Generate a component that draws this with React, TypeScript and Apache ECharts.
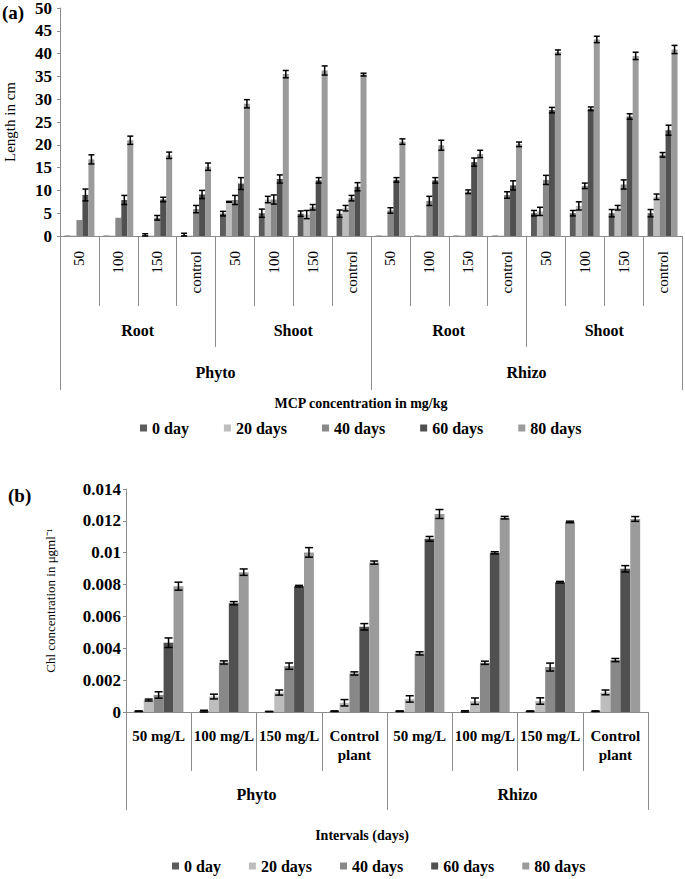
import React, { useEffect, useRef } from 'react';
import * as echarts from 'echarts';

// ---------- Data: panel (a) ----------
const lengthCats = ['50', '100', '150', 'control', '50', '100', '150', 'control', '50', '100', '150', 'control', '50', '100', '150', 'control'];
const lengthParts = ['Root', 'Shoot', 'Root', 'Shoot'];
const lengthGroups = ['Phyto', 'Rhizo'];
const seriesNames = ['0 day', '20 days', '40 days', '60 days', '80 days'];

const len0 = [0.1, 0.1, 0.2, 0.2, 4.9, 5.0, 4.9, 4.9, 0.1, 0.1, 0.1, 0.1, 5.0, 5.0, 5.0, 5.0];
const len20 = [0.1, 0.1, 0.1, 0.1, 7.5, 8.0, 4.7, 6.1, 0.1, 0.1, 0.1, 0.1, 5.4, 6.6, 6.2, 8.6];
const len40 = [3.5, 4.0, 4.0, 5.9, 7.9, 8.0, 6.3, 8.3, 5.6, 7.7, 9.7, 9.0, 12.3, 11.0, 11.3, 17.8];
const len60 = [9.0, 7.9, 8.0, 9.1, 11.5, 12.5, 12.2, 10.8, 12.3, 12.2, 16.2, 11.1, 27.6, 27.9, 26.2, 23.2];
const len80 = [16.8, 21.0, 17.7, 15.2, 29.0, 35.5, 36.3, 35.4, 20.7, 19.9, 18.0, 20.1, 40.3, 43.1, 39.5, 40.9];

const lenErr0 = [0, 0, 0.3, 0.4, 0.5, 0.9, 0.6, 0.8, 0, 0, 0, 0, 0.6, 0.6, 0.8, 0.8];
const lenErr20 = [0, 0, 0, 0, 0.1, 0.7, 0.9, 0.6, 0, 0, 0, 0, 0.9, 0.9, 0.5, 0.6];
const lenErr40 = [0, 0, 0.5, 0.8, 1.0, 1.0, 0.6, 0.6, 0.6, 1.0, 0.4, 0.7, 1.0, 0.6, 1.0, 0.5];
const lenErr60 = [1.3, 1.0, 0.5, 0.9, 1.3, 0.9, 0.6, 0.9, 0.5, 0.6, 0.9, 1.0, 0.6, 0.4, 0.6, 1.1];
const lenErr80 = [1.0, 0.9, 0.7, 0.8, 0.9, 0.8, 1.0, 0.3, 0.6, 1.1, 0.8, 0.5, 0.5, 0.7, 0.8, 0.9];

// ---------- Data: panel (b) ----------
const chlCats = ['50 mg/L', '100 mg/L', '150 mg/L', 'Control\nplant', '50 mg/L', '100 mg/L', '150 mg/L', 'Control\nplant'];
const chlGroups = ['Phyto', 'Rhizo'];

const chl0 = [0.00005, 0.00005, 0.00003, 0.00005, 0.00005, 0.00003, 0.00005, 0.00005];
const chl20 = [0.00075, 0.00097, 0.00122, 0.00058, 0.00082, 0.00068, 0.00069, 0.00123];
const chl40 = [0.00107, 0.00311, 0.00288, 0.00242, 0.00368, 0.00309, 0.00282, 0.00326];
const chl60 = [0.00435, 0.00683, 0.0079, 0.00535, 0.01087, 0.00999, 0.00815, 0.00899];
const chl80 = [0.0079, 0.00878, 0.01002, 0.00938, 0.01243, 0.0122, 0.01193, 0.01212];

const chlErr0 = [0.00002, 0.00006, 0.00001, 0.00002, 0.00002, 0.00005, 0.00002, 0.00002];
const chlErr20 = [0.00006, 0.00015, 0.00016, 0.0002, 0.0002, 0.0002, 0.0002, 0.00015];
const chlErr40 = [0.0002, 0.0001, 0.0002, 0.0001, 0.0001, 0.0001, 0.00025, 0.0001];
const chlErr60 = [0.0003, 0.0001, 0.00005, 0.0002, 0.00015, 0.00007, 0.00005, 0.0002];
const chlErr80 = [0.00025, 0.0002, 0.0003, 0.0001, 0.00028, 0.00008, 0.00005, 0.00015];

const colors = ['#5c5c5c', '#bdbdbd', '#888888', '#505050', '#9b9b9b'];
const FONT = "'Liberation Serif', 'Times New Roman', serif";
const AXIS_GRAY = '#8c8c8c';
const GAP_A = 0.23;
const GAP_B = 0.24;

const lenVals = [len0, len20, len40, len60, len80];
const lenErrs = [lenErr0, lenErr20, lenErr40, lenErr60, lenErr80];
const chlVals = [chl0, chl20, chl40, chl60, chl80];
const chlErrs = [chlErr0, chlErr20, chlErr40, chlErr60, chlErr80];

const errRender = (gapFrac: number, capW: number) => (params: any, api: any) => {
  const cat = api.value(0);
  const s = api.value(1);
  const v = api.value(2);
  const e = api.value(3);
  if (!(e > 0)) return null;
  const band = api.size([1, 0])[0];
  const bw = (band * (1 - gapFrac)) / 5;
  const c = api.coord([cat, v]);
  const x = c[0] + (s - 2) * bw;
  const yt = api.coord([cat, v + e])[1];
  const yb = api.coord([cat, Math.max(v - e, 0)])[1];
  const st = { stroke: '#000', lineWidth: 1.5 };
  return {
    type: 'group',
    children: [
      { type: 'line', shape: { x1: x, y1: yt, x2: x, y2: yb }, style: st },
      { type: 'line', shape: { x1: x - capW / 2, y1: yt, x2: x + capW / 2, y2: yt }, style: st },
      { type: 'line', shape: { x1: x - capW / 2, y1: yb, x2: x + capW / 2, y2: yb }, style: st },
    ],
  };
};

function errData(vals: number[][], errs: number[][]) {
  const out: number[][] = [];
  vals.forEach((arr, s) => arr.forEach((v, c) => out.push([c, s, v, errs[s][c]])));
  return out;
}

const levelAxis = (gridIndex: number, data: string[], tickLen: number, margin: number, labelExtra: any = {}, showLine = false) => ({
  type: 'category',
  gridIndex,
  position: 'bottom',
  data,
  boundaryGap: true,
  axisLine: { show: showLine, lineStyle: { color: AXIS_GRAY, width: 1 } },
  axisTick: { show: true, length: tickLen, interval: 0, alignWithLabel: false, lineStyle: { color: AXIS_GRAY, width: 1 } },
  axisLabel: {
    interval: 0,
    margin,
    color: '#000',
    fontFamily: FONT,
    fontSize: 16,
    fontWeight: 'bold',
    ...labelExtra,
  },
  splitLine: { show: false },
});

const valueAxis = (gridIndex: number, max: number, interval: number, name: string, nameGap: number, nameSize: number, margin: number) => ({
  type: 'value',
  gridIndex,
  min: 0,
  max,
  interval,
  name,
  nameLocation: 'middle',
  nameGap,
  nameTextStyle: { fontFamily: FONT, fontSize: nameSize, color: '#000', fontWeight: 'normal' },
  axisLine: { show: true, lineStyle: { color: AXIS_GRAY, width: 1 } },
  axisTick: { show: true, length: 3, lineStyle: { color: AXIS_GRAY } },
  axisLabel: { color: '#000', fontFamily: FONT, fontSize: 17, fontWeight: 'bold', margin },
  splitLine: { show: false },
});

const legendBase = (left: number, top: number, gap: number) => ({
  left,
  top,
  orient: 'horizontal',
  icon: 'rect',
  itemWidth: 7,
  itemHeight: 7,
  itemGap: gap,
  data: seriesNames,
  selectedMode: false,
  textStyle: { fontFamily: FONT, fontSize: 16, fontWeight: 'bold', color: '#000' },
});

function buildOption() {
  const barsA = seriesNames.map((n, i) => ({
    name: n,
    type: 'bar',
    xAxisIndex: 0,
    yAxisIndex: 0,
    data: lenVals[i],
    itemStyle: { color: colors[i] },
    barGap: '0%',
    barCategoryGap: `${GAP_A * 100}%`,
  }));
  const barsB = seriesNames.map((n, i) => ({
    name: n,
    type: 'bar',
    xAxisIndex: 3,
    yAxisIndex: 1,
    data: chlVals[i],
    itemStyle: { color: colors[i] },
    barGap: '0%',
    barCategoryGap: `${GAP_B * 100}%`,
  }));
  return {
    animation: false,
    backgroundColor: '#fff',
    textStyle: { fontFamily: FONT },
    grid: [
      { left: 60, top: 8, width: 622, height: 228, containLabel: false, outerBoundsMode: 'none' },
      { left: 126, top: 489, width: 522, height: 223, containLabel: false, outerBoundsMode: 'none' },
    ],
    xAxis: [
      levelAxis(0, lengthCats, 70, 15, { rotate: 90, fontWeight: 'normal', fontSize: 15 }, true),
      levelAxis(0, lengthParts, 111, 86),
      levelAxis(0, lengthGroups, 154, 128),
      levelAxis(1, chlCats, 59, 14, { fontSize: 15, lineHeight: 19 }, true),
      levelAxis(1, chlGroups, 98, 74),
    ],
    yAxis: [
      valueAxis(0, 50, 5, 'Length in cm', 43, 15, 8),
      valueAxis(1, 0.014, 0.002, 'Chl concentration in μgml⁻¹', 69, 13, 5),
    ],
    legend: [legendBase(135, 415, 35), legendBase(167, 853, 28)],
    graphic: [
      { type: 'text', left: 2, top: 3, style: { text: '(a)', fontFamily: FONT, fontSize: 19, fontWeight: 'bold', fill: '#000' } },
      { type: 'text', left: 8, top: 486, style: { text: '(b)', fontFamily: FONT, fontSize: 19, fontWeight: 'bold', fill: '#000' } },
      { type: 'text', x: 361, y: 403, style: { text: 'MCP concentration in mg/kg', fontFamily: FONT, fontSize: 14, fontWeight: 'bold', fill: '#000', align: 'center', verticalAlign: 'middle' } },
      { type: 'text', x: 362, y: 835, style: { text: 'Intervals (days)', fontFamily: FONT, fontSize: 14, fontWeight: 'bold', fill: '#000', align: 'center', verticalAlign: 'middle' } },
    ],
    series: [
      ...barsA,
      ...barsB,
      {
        type: 'custom',
        name: 'errA',
        xAxisIndex: 0,
        yAxisIndex: 0,
        z: 5,
        encode: { x: 0, y: 2 },
        renderItem: errRender(GAP_A, 6),
        data: errData(lenVals, lenErrs),
        silent: true,
      },
      {
        type: 'custom',
        name: 'errB',
        xAxisIndex: 3,
        yAxisIndex: 1,
        z: 5,
        encode: { x: 0, y: 2 },
        renderItem: errRender(GAP_B, 8),
        data: errData(chlVals, chlErrs),
        silent: true,
      },
    ],
  };
}

export default function App() {
  const ref = useRef<HTMLDivElement>(null);
  useEffect(() => {
    const chart = echarts.init(ref.current!, null, { renderer: 'svg' });
    chart.setOption(buildOption() as any);
    return () => chart.dispose();
  }, []);
  return (
    <div
      ref={ref}
      style={{ position: 'absolute', left: 0, top: 0, width: 685, height: 879, background: '#fff' }}
    />
  );
}
